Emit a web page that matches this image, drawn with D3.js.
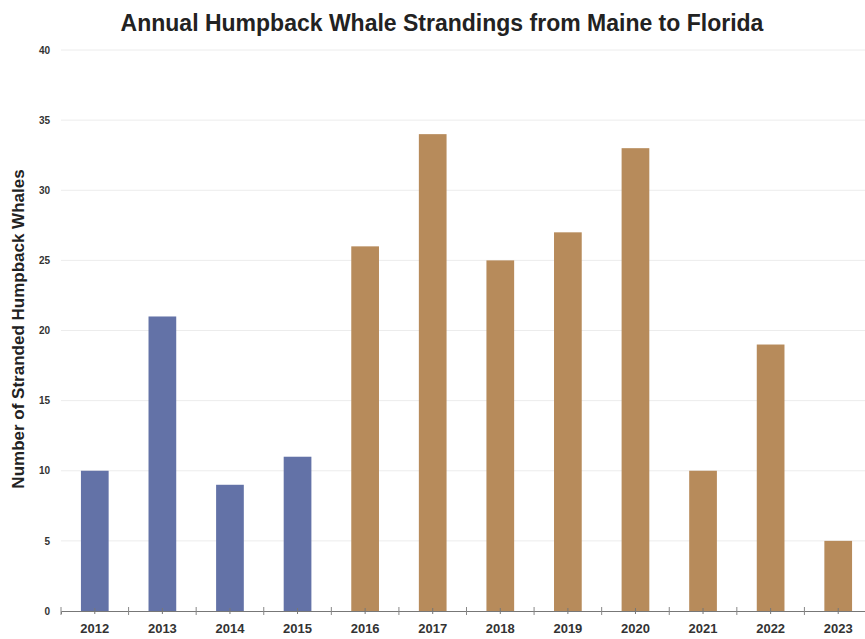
<!DOCTYPE html>
<html>
<head>
<meta charset="utf-8">
<script src="https://cdn.jsdelivr.net/npm/d3@7"></script>
<style>
  body { margin: 0; background: #fff; }
  text { font-family: "Liberation Sans", Arial, sans-serif; }
</style>
</head>
<body>
<script>
// chart data
var years = ["2012", "2013", "2014", "2015", "2016", "2017", "2018", "2019", "2020", "2021", "2022", "2023"];
var strandings = [10, 21, 9, 11, 26, 34, 25, 27, 33, 10, 19, 5];
var period = ["early", "early", "early", "early", "ume", "ume", "ume", "ume", "ume", "ume", "ume", "ume"];
var yTicks = [0, 5, 10, 15, 20, 25, 30, 35, 40];

var w = 865;
var h = 639;
var plotLeft = 61, plotRight = 872, plotTop = 50, plotBottom = 611;

var colors = { early: "#6372a7", ume: "#b78b5b" };

var dataset = years.map(function(y, i) {
  return { year: y, value: strandings[i], period: period[i] };
});

var xScale = d3.scaleBand()
  .domain(years)
  .range([plotLeft, plotRight])
  .paddingInner(0.59)
  .paddingOuter(0.295);

var yScale = d3.scaleLinear()
  .domain([0, 40])
  .range([plotBottom, plotTop]);

var svg = d3.select("body")
  .append("svg")
  .attr("width", w)
  .attr("height", h);

// gridlines
svg.append("g")
  .selectAll("line")
  .data(yTicks.slice(1))
  .enter()
  .append("line")
  .attr("x1", plotLeft)
  .attr("x2", w)
  .attr("y1", function(d) { return yScale(d); })
  .attr("y2", function(d) { return yScale(d); })
  .attr("stroke", "#ececec")
  .attr("stroke-width", 1);

// bars
svg.append("g")
  .selectAll("rect")
  .data(dataset)
  .enter()
  .append("rect")
  .attr("x", function(d) { return xScale(d.year); })
  .attr("y", function(d) { return yScale(d.value); })
  .attr("width", xScale.bandwidth())
  .attr("height", function(d) { return plotBottom - yScale(d.value); })
  .attr("fill", function(d) { return colors[d.period]; });

// y axis labels (no axis line)
var yAxis = d3.axisLeft(yScale)
  .tickValues(yTicks)
  .tickSize(0)
  .tickPadding(0);

svg.append("g")
  .attr("transform", "translate(50,0)")
  .call(yAxis)
  .call(function(g) { g.select(".domain").remove(); })
  .selectAll("text")
  .attr("font-size", "10px")
  .attr("font-weight", "bold")
  .attr("fill", "#333");

// x axis
var xAxis = d3.axisBottom(xScale)
  .tickSize(3)
  .tickPadding(10);

var gx = svg.append("g")
  .attr("transform", "translate(0," + plotBottom + ")")
  .call(xAxis);

gx.select(".domain").attr("stroke", "#777");
gx.selectAll(".tick line").attr("stroke", "#777").attr("y1", -3);
gx.selectAll("text")
  .attr("font-size", "13px")
  .attr("font-weight", "bold")
  .attr("fill", "#333");

// boundary ticks between categories
gx.append("g")
  .selectAll("line")
  .data(years)
  .enter()
  .append("line")
  .attr("x1", function(d) { return xScale(d) - xScale.step() * xScale.paddingInner() / 2; })
  .attr("x2", function(d) { return xScale(d) - xScale.step() * xScale.paddingInner() / 2; })
  .attr("y1", -4)
  .attr("y2", 4)
  .attr("stroke", "#888");

// title
svg.append("text")
  .attr("x", 442)
  .attr("y", 31)
  .attr("text-anchor", "middle")
  .attr("font-size", "23px")
  .attr("font-weight", "bold")
  .attr("fill", "#222")
  .text("Annual Humpback Whale Strandings from Maine to Florida");

// y axis title
svg.append("text")
  .attr("transform", "translate(24," + 329 + ") rotate(-90)")
  .attr("text-anchor", "middle")
  .attr("font-size", "17px")
  .attr("font-weight", "bold")
  .attr("fill", "#222")
  .text("Number of Stranded Humpback Whales");
</script>
</body>
</html>
